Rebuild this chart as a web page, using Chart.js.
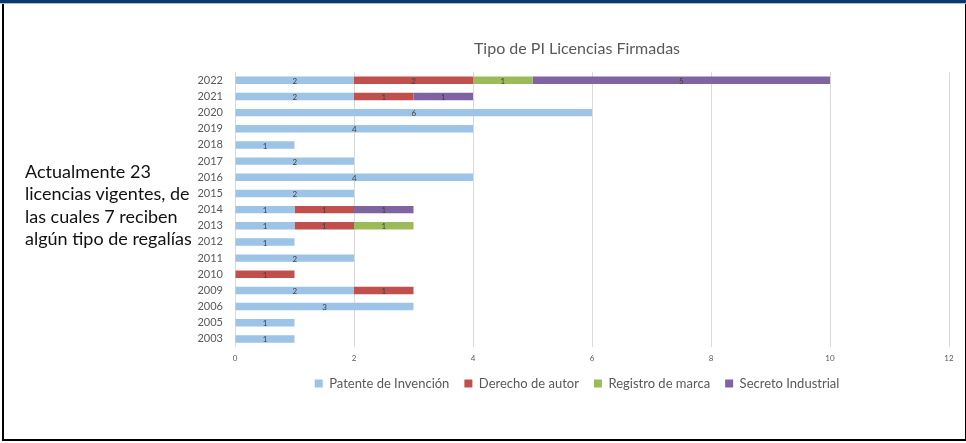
<!DOCTYPE html>
<html lang="es">
<head>
<meta charset="UTF-8">
<title>Tipo de PI Licencias Firmadas</title>
<script src="https://cdn.jsdelivr.net/npm/chart.js"></script>
<style>
  html, body { margin: 0; padding: 0; background: #fff; }
  body { width: 966px; height: 443px; position: relative; overflow: hidden; font-family: Lato, "Noto Sans", sans-serif; }
  .band { position: absolute; left: 0; top: 0; width: 966px; height: 3px; background: #0b3a6a; border-bottom: 1px solid #9fc0e0; }
  .frame { position: absolute; left: 2px; top: 4px; width: 961px; height: 435px; border: 2px solid #000; border-top: none; z-index: 3; }
  .note { position: absolute; left: 25px; top: 160px; font-size: 18px; line-height: 22.3px; color: #111; z-index: 2; }
  #chart { position: absolute; left: 0; top: 0; z-index: 1; }
</style>
</head>
<body>
<div class="band"></div>
<div class="frame"></div>
<div class="note">Actualmente 23<br>licencias vigentes, de<br>las cuales 7 reciben<br>algún tipo de regalías</div>
<canvas id="chart" width="1004" height="443"></canvas>

<script>
// datos (de arriba hacia abajo)
const years = ['2022', '2021', '2020', '2019', '2018', '2017', '2016', '2015', '2014', '2013', '2012', '2011', '2010', '2009', '2006', '2005', '2003'];
const patente  = [2, 2, 6, 4, 1, 2, 4, 2, 1, 1, 1, 2, null, 2, 3, 1, 1];
const derecho  = [2, 1, null, null, null, null, null, null, 1, 1, null, null, 1, 1, null, null, null];
const registro = [1, null, null, null, null, null, null, null, null, 1, null, null, null, null, null, null, null];
const secreto  = [5, 1, null, null, null, null, null, null, 1, null, null, null, null, null, null, null, null];
const xTicks = [0, 2, 4, 6, 8, 10, 12];

// etiquetas de valor en el centro de cada segmento
const valueLabels = {
  id: 'valueLabels',
  afterDatasetsDraw(chart) {
    const ctx = chart.ctx;
    ctx.save();
    ctx.font = '8px Lato, "Noto Sans", sans-serif';
    ctx.fillStyle = '#404040';
    ctx.textAlign = 'center';
    ctx.textBaseline = 'middle';
    chart.data.datasets.forEach((ds, i) => {
      const meta = chart.getDatasetMeta(i);
      if (meta.hidden) return;
      meta.data.forEach((bar, j) => {
        const v = ds.data[j];
        if (v == null || v === 0) return;
        ctx.fillText(String(v), (bar.x + bar.base) / 2, bar.y + 1);
      });
    });
    ctx.restore();
  }
};

const gray = '#595959';
const font = 'Lato, "Noto Sans", sans-serif';

new Chart(document.getElementById('chart'), {
  type: 'bar',
  data: {
    labels: years,
    datasets: [
      { label: 'Patente de Invención', data: patente, backgroundColor: '#9dc3e6', yAxisID: 'y' },
      { label: 'Derecho de autor', data: derecho, backgroundColor: '#c0504d', yAxisID: 'y' },
      { label: 'Registro de marca', data: registro, backgroundColor: '#9bbb59', yAxisID: 'y' },
      { label: 'Secreto Industrial', data: secreto, backgroundColor: '#8064a2', yAxisID: 'y' }
    ]
  },
  options: {
    indexAxis: 'y',
    responsive: false,
    animation: false,
    barPercentage: 0.46,
    categoryPercentage: 1,
    layout: { padding: { left: 150, right: 0, top: 0, bottom: 43 } },
    plugins: {
      tooltip: { enabled: false },
      title: {
        display: true,
        text: 'Tipo de PI Licencias Firmadas',
        color: gray,
        font: { family: font, size: 16, weight: 'normal' },
        padding: { top: 39, bottom: 14 }
      },
      legend: {
        position: 'bottom',
        labels: {
          color: gray,
          boxWidth: 8,
          boxHeight: 8,
          padding: 15,
          font: { family: font, size: 13 }
        }
      }
    },
    scales: {
      x: {
        stacked: true,
        min: 0,
        max: 12,
        afterBuildTicks(scale) { scale.ticks = xTicks.map(v => ({ value: v })); },
        afterFit(scale) { scale.height = 15; },
        grid: { color: '#d9d9d9', drawTicks: false },
        border: { display: false },
        ticks: { color: gray, padding: 7, font: { family: font, size: 8 } }
      },
      y: {
        stacked: true,
        afterFit(scale) { scale.width = 85; },
        grid: { display: false, drawTicks: false },
        border: { display: false },
        ticks: { color: gray, padding: 12, autoSkip: false, font: { family: font, size: 11 } }
      },
      // eje vacío a la derecha, solo para centrar título y leyenda como en la original
      yR: {
        type: 'category',
        position: 'right',
        afterFit(scale) { scale.width = 55; },
        grid: { display: false, drawTicks: false },
        border: { display: false },
        ticks: { display: false }
      }
    }
  },
  plugins: [valueLabels]
});
</script>
</body>
</html>
